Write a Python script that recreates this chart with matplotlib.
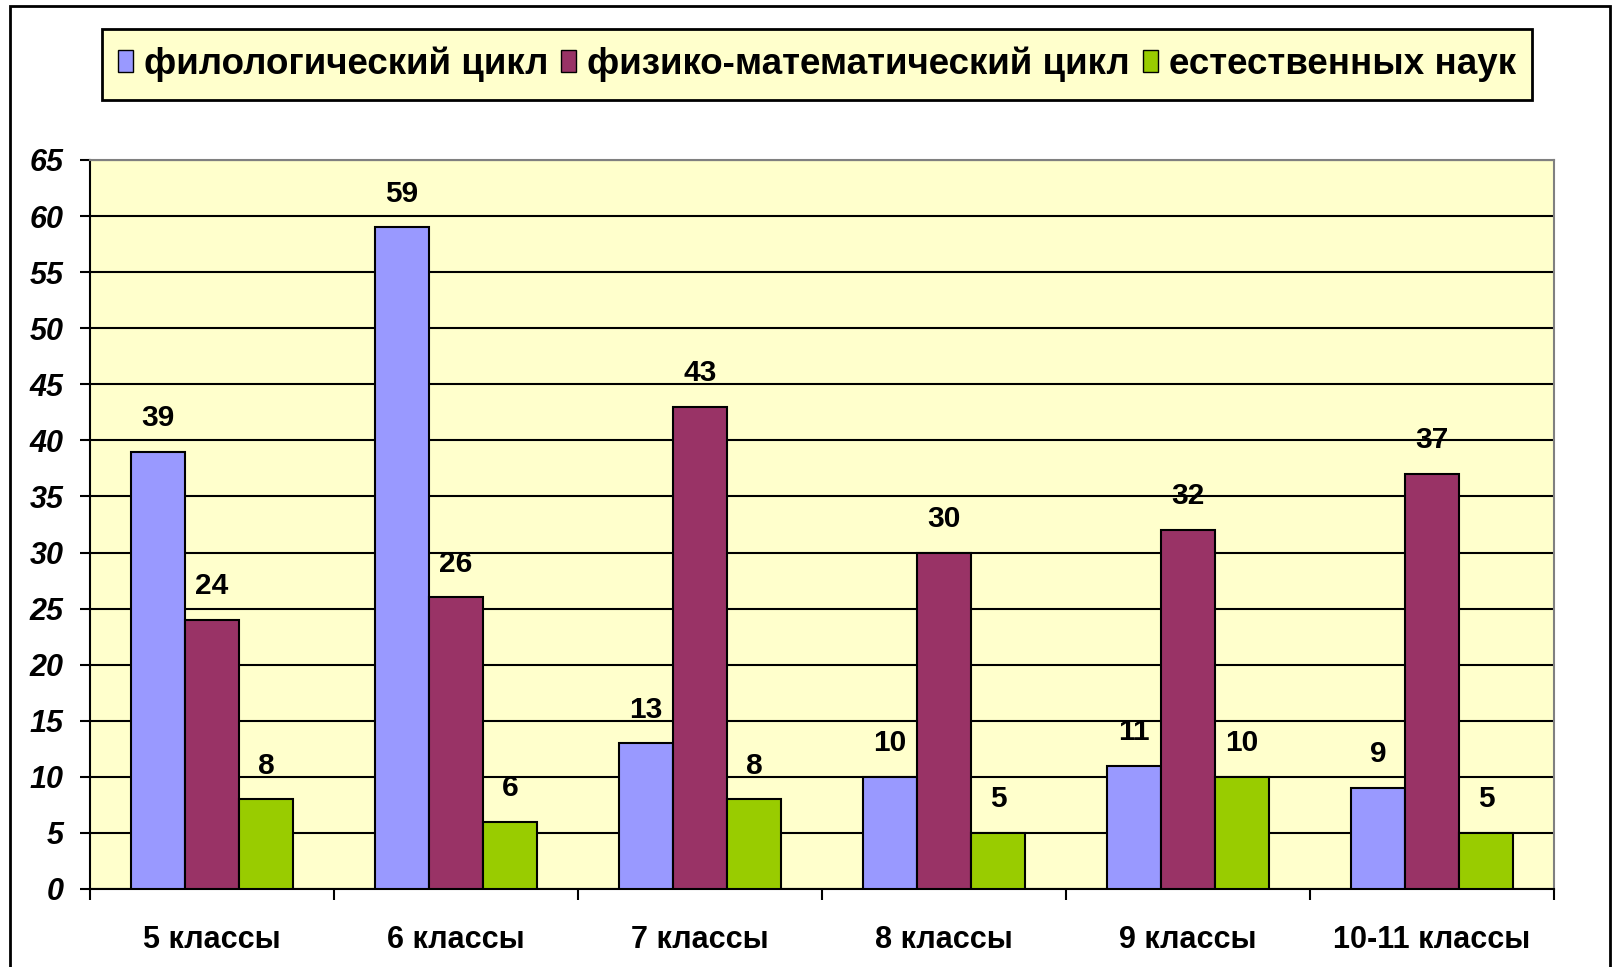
import matplotlib
matplotlib.use("Agg")
import matplotlib.pyplot as plt
import matplotlib.patches as mpatches
import numpy as np

plt.rcParams["font.family"] = ["Liberation Sans", "DejaVu Sans"]
plt.rcParams["font.weight"] = "bold"

# ── Data ──────────────────────────────────────────────────────────────────────
categories = ["5 классы", "6 классы", "7 классы", "8 классы", "9 классы", "10-11 классы"]
series_names = ["филологический цикл", "физико-математический цикл", "естественных наук"]
philology = [39, 59, 13, 10, 11, 9]
phys_math = [24, 26, 43, 30, 32, 37]
natural = [8, 6, 8, 5, 10, 5]
colors = ["#9999FF", "#993366", "#99CC00"]
y_ticks = list(range(0, 66, 5))

# ── Figure ────────────────────────────────────────────────────────────────────
W, H = 1612, 967
fig = plt.figure(figsize=(W / 100, H / 100), dpi=100)
fig.patch.set_facecolor("white")

# outer chart border
fig.patches.append(mpatches.Rectangle((10 / W, -0.05), 1600 / W, (H - 6) / H + 0.05,
                                      transform=fig.transFigure, fill=False,
                                      edgecolor="black", linewidth=2, zorder=0))

ax = fig.add_axes([90 / W, (H - 889) / H, (1554 - 90) / W, (889 - 160) / H])
ax.set_facecolor("#FFFFCC")

x = np.arange(len(categories))
bar_w = 0.221
series = [philology, phys_math, natural]
for i, (vals, name, col) in enumerate(zip(series, series_names, colors)):
    xpos = x + (i - 1) * bar_w
    ax.bar(xpos, vals, width=bar_w, color=col, edgecolor="black",
           linewidth=1.5, label=name, zorder=3)
    for xb, v in zip(xpos, vals):
        ax.annotate(str(v), (xb, v), xytext=(0, 18.5), textcoords="offset points",
                    ha="center", va="baseline", fontsize=21.5, fontweight="bold")

ax.set_xlim(-0.5, len(categories) - 0.5)
ax.set_ylim(0, 65)
ax.set_yticks(y_ticks)
ax.set_yticklabels([str(t) for t in y_ticks], fontsize=22, fontstyle="italic",
                   fontweight="bold")
ax.yaxis.grid(True, color="black", linewidth=1.5, zorder=1)
ax.set_axisbelow(True)

ax.set_xticks(x)
ax.set_xticklabels(categories, fontsize=22, fontweight="bold")
ax.set_xticks(np.arange(-0.5, len(categories), 1.0), minor=True)
ax.tick_params(axis="x", which="major", length=0, pad=26)
ax.tick_params(axis="x", which="minor", length=8, width=1.5, direction="out")
ax.tick_params(axis="y", length=7, width=1.5, direction="out", pad=12)

for s in ["left", "bottom"]:
    ax.spines[s].set_color("black")
    ax.spines[s].set_linewidth(1.5)
for s in ["top", "right"]:
    ax.spines[s].set_color("#808080")
    ax.spines[s].set_linewidth(1.5)

# legend box
fig.patches.append(mpatches.Rectangle((102 / W, 1 - 100 / H), (1532 - 102) / W, 71 / H,
                                      transform=fig.transFigure, facecolor="#FFFFCC",
                                      edgecolor="black", linewidth=2, zorder=1))
leg = fig.legend(loc="center", bbox_to_anchor=((102 + 1532) / 2 / W, 1 - (29 + 100) / 2 / H),
                 ncol=3, frameon=False, fontsize=26.5, handlelength=0.4, handleheight=0.55,
                 handletextpad=0.3, columnspacing=0.35, borderpad=0)
for h in leg.legend_handles:
    h.set_linewidth(1)
leg.set_zorder(2)

fig.savefig("out.png", dpi=100)
